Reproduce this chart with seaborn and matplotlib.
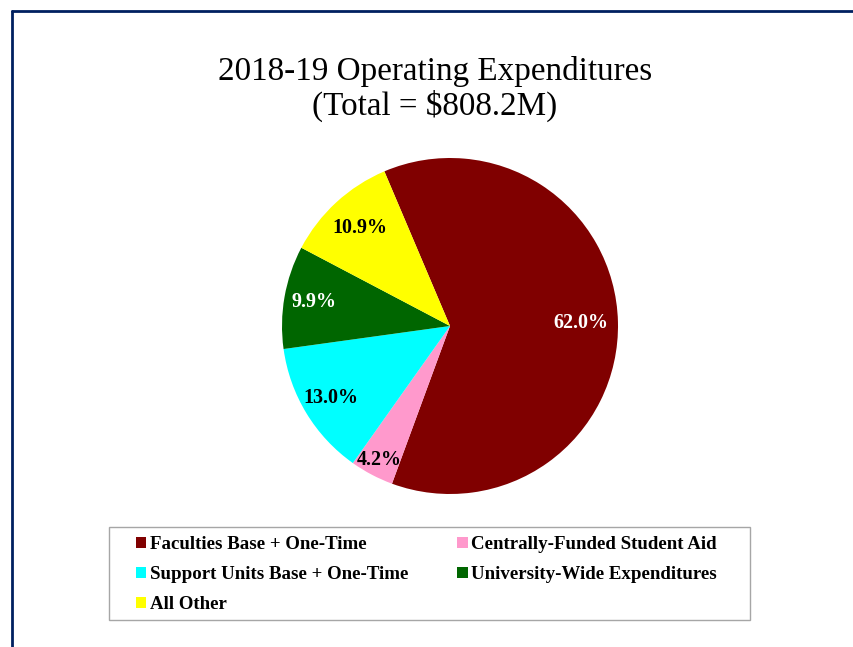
import numpy as np
import matplotlib
matplotlib.use("Agg")
import matplotlib.pyplot as plt
from matplotlib.lines import Line2D
from matplotlib.patches import Rectangle
import seaborn as sns

# data
categories = ["Faculties Base + One-Time", "Centrally-Funded Student Aid",
              "Support Units Base + One-Time", "University-Wide Expenditures",
              "All Other"]
shares = [62.0, 4.2, 13.0, 9.9, 10.9]
slice_colors = ["#800000", "#FF99CC", "#00FFFF", "#006600", "#FFFF00"]
label_colors = ["white", "black", "black", "white", "black"]
title_text = "2018-19 Operating Expenditures\n(Total = $808.2M)"

sns.set_theme(style="white")
plt.rcParams["font.family"] = ["Liberation Serif", "DejaVu Serif"]
plt.rcParams["text.color"] = "black"

fig = plt.figure(figsize=(8.54, 6.47), dpi=100)
W, H = 854, 647

# pie axes: centre (450, 326) px, radius 168 px
cx, cy, r = 450, 326, 168
ax = fig.add_axes([(cx - r) / W, (H - cy - r) / H, 2 * r / W, 2 * r / H])

wedges, texts, autotexts = ax.pie(
    shares, colors=slice_colors, startangle=113, counterclock=False,
    autopct="%.1f%%", pctdistance=0.8,
    wedgeprops=dict(linewidth=0, edgecolor="none"),
    textprops=dict(fontsize=14.4, fontweight="bold"))
ax.set_xlim(-1, 1)
ax.set_ylim(-1, 1)
ax.set_aspect("equal")

# Excel-like label distances
dists = [0.78, 0.9, 0.83, 0.82, 0.79]
for t, c, d in zip(autotexts, label_colors, dists):
    x, y = t.get_position()
    n = np.hypot(x, y)
    t.set_position((x / n * d, y / n * d))
    t.set_color(c)

fig.text(435 / W, 1 - 89 / H, title_text, ha="center", va="center",
         fontsize=23.9, linespacing=1.13)

# legend box drawn by hand (Excel has uneven padding)
fig.add_artist(Rectangle((109 / W, 1 - 620 / H), (750 - 109) / W, (620 - 527) / H,
                         transform=fig.transFigure, facecolor="white",
                         edgecolor="#A6A6A6", lw=1.0, zorder=0))

# legend, row-major order like Excel
order = [0, 2, 4, 1, 3]
leg = fig.legend([wedges[i] for i in order], [categories[i] for i in order],
                 ncol=2, loc="upper left",
                 bbox_to_anchor=(136 / W, 1 - 536 / H),
                 frameon=False,
                 handlelength=0.55, handleheight=0.55, handletextpad=0.18,
                 columnspacing=2.6, labelspacing=0.69, borderpad=0,
                 borderaxespad=0,
                 prop=dict(size=13.6, weight="bold"))
for h in leg.legend_handles:
    h.set_edgecolor("none")
    h.set_linewidth(0)

# dark blue frame lines (top and left)
fig.add_artist(Line2D([12 / W, 1], [1 - 11 / H, 1 - 11 / H], color="#002060",
                      lw=2, transform=fig.transFigure))
fig.add_artist(Line2D([12 / W, 12 / W], [0, 1 - 11 / H], color="#002060",
                      lw=2, transform=fig.transFigure))

fig.savefig("out.png", dpi=100)
